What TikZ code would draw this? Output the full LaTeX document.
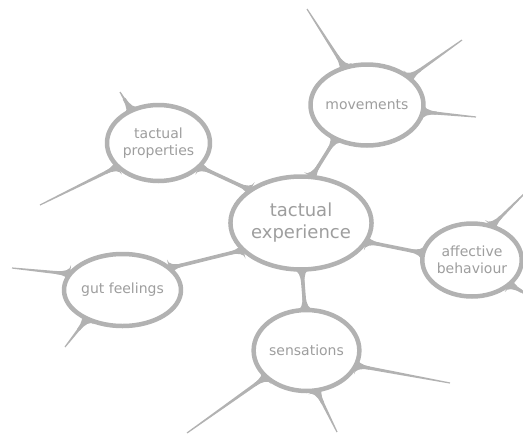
\documentclass[tikz,border=0pt]{standalone}
\usepackage{fontspec}
\setmainfont{DejaVu Sans}
\usetikzlibrary{shapes.geometric,calc,backgrounds}
\definecolor{mapline}{gray}{0.70}
\definecolor{maptext}{gray}{0.62}
\tikzset{%
      blob/.style = { ellipse, draw=mapline, line width=4.5pt, fill=white, inner sep=0pt, outer sep=0pt,
                      text=maptext, align=center, font=\fontsize{14}{17}\selectfont },
   hubblob/.style = { blob, font=\fontsize{18}{22}\selectfont },
      twig/.style = { fill=mapline }
}
% fillet where a twig leaves a blob
\newcommand{\flare}[2]{%
  \fill[twig] ($(#1)!9pt!90:(#2)$)
     .. controls ($(#1)!4pt!90:(#2)$) and ($(#1)!6pt!(#2)!1.6pt!90:(#2)$) .. ($(#1)!14pt!(#2)!1.6pt!90:(#2)$)
     -- ($(#1)!14pt!(#2)!1.6pt!-90:(#2)$)
     .. controls ($(#1)!6pt!(#2)!1.6pt!-90:(#2)$) and ($(#1)!4pt!-90:(#2)$) .. ($(#1)!9pt!-90:(#2)$)
     -- cycle;}
% tapered twig, #1 = half width at the far end
\newcommand{\twig}[3][0.6pt]{%
  \fill[twig] ($(#2)!1.8pt!90:(#3)$) -- ($(#3)!#1!-90:(#2)$) -- ($(#3)!#1!90:(#2)$)
     -- ($(#2)!1.8pt!-90:(#3)$) -- cycle;
  \flare{#2}{#3}}
\newcommand{\link}[2]{\twig[1.8pt]{#1}{#2}\flare{#2}{#1}}

\begin{document}
\begin{tikzpicture}[x=1pt,y=-1pt,line cap=round,line join=round]
\useasboundingbox (0,0) rectangle (523,437);
% blobs
\node[hubblob, minimum width=138pt, minimum height=93pt] (exp) at (301,223) {tactual\\experience};
\node[blob, inner xsep=-4pt, minimum width=113pt, minimum height=81pt] (mov) at (367,105) {movements};
\node[blob, minimum width=103pt, minimum height=76pt] (tprop) at (158.5,143) {tactual\\properties};
\node[blob, minimum width=117pt, minimum height=72pt] (gut) at (122.5,290) {gut feelings};
\node[blob, minimum width=103pt, minimum height=81pt] (sens) at (306.5,350.5) {sensations};
\node[blob, minimum width=96pt, minimum height=73pt] (aff) at (472,260) {affective\\behaviour};
% loose ends
\coordinate (mov-a) at (307,9);   \coordinate (mov-b) at (462,40);  \coordinate (mov-c) at (476,117);
\coordinate (tp-a) at (120,92);   \coordinate (tp-b) at (40,205);
\coordinate (gut-a) at (12,268);  \coordinate (gut-b) at (65,347);
\coordinate (sen-a) at (187,433); \coordinate (sen-b) at (337,432); \coordinate (sen-c) at (450,383);
\coordinate (aff-a) at (528,190); \coordinate (aff-b) at (528,295);
\begin{pgfonlayer}{background}
\link{exp.77}{mov.227}
\link{exp.147}{tprop.330}
\link{exp.205}{gut.25}
\link{exp.271}{sens.92}
\link{exp.344}{aff.172}
\twig{mov.121}{mov-a} \twig{mov.33}{mov-b} \twig{mov.353}{mov-c}
\twig{tprop.130}{tp-a} \twig{tprop.210}{tp-b}
\twig{gut.163}{gut-a} \twig{gut.219}{gut-b}
\twig{sens.213}{sen-a} \twig{sens.284}{sen-b} \twig{sens.343}{sen-c}
\twig{aff.60}{aff-a} \twig[1.2pt]{aff.327}{aff-b}
\end{pgfonlayer}
\end{tikzpicture}
\end{document}
